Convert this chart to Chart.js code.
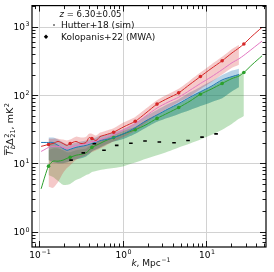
<!DOCTYPE html>
<html><head><meta charset="utf-8">
<script src="https://cdn.jsdelivr.net/npm/chart.js@4.4.1/dist/chart.umd.min.js"></script>
<style>html,body{margin:0;padding:0;background:#fff;}canvas{display:block;}</style>
</head><body>
<canvas id="c" width="274" height="272"></canvas>
<script>
// ---- data ----
const kGrid = [0.106,0.118,0.130,0.147,0.169,0.194,0.216,0.236,0.277,0.318,0.366,0.397,0.430,0.482,0.538,0.634,0.782,1.04,1.42,1.91,2.59,3.51,4.71,6.43,8.57,11.5,15.6,20.5,24.8,28.4,35.6,46.9];
const markerK = [0.130,0.236,0.430,0.782,1.42,2.59,4.71,8.57,15.6,28.4];

const redLine   = [17.8,18.4,19.0,19.6,21.0,19.6,18.4,19.6,21.0,19.6,20.3,23.9,23.2,21.7,24.7,26.4,28.7,34.5,41.4,54.9,73.9,90.2,108,144,187,244,318,415,490,560,730,983];
const pinkLine  = [15.0,16.1,17.2,17.8,17.8,17.2,16.6,17.2,18.4,19.0,19.6,20.3,21.0,21.0,22.4,23.9,26.4,31.2,38.1,49.7,64.7,79.0,93.3,118,148,184,236,298,340,382,474,618];
const blueLine  = [20.3,20.3,20.3,20.3,18.4,16.6,15.6,16.1,17.2,17.8,18.4,19.0,19.6,20.6,21.7,22.4,23.9,27.3,33.4,42.1,51.3,62.7,75.2,93.3,112,134,167,187,200,null,null,null];
const greenLine = [4.26,6.56,9.14,10.8,10.8,11.2,11.9,12.3,13.2,13.6,14.3,15.6,17.2,18.4,19.6,21.7,23.9,27.3,31.2,36.8,45.7,54.9,65.8,81.7,103,122,148,175,190,214,279,376];

const redBandLo   = [null,null,4.56,4.41,5.38,7.25,8.56,9.45,11.2,12.3,13.2,14.1,14.6,15.6,16.6,18.4,21.0,24.7,30.2,39.4,51.3,64.7,79.0,96.4,122,154,200,252,279,null,null,null];
const redBandHi   = [null,null,23.1,23.1,23.1,22.4,21.7,22.4,24.7,23.9,24.7,27.3,27.3,25.6,28.3,30.2,32.8,40.0,48.0,63.7,84.5,103,124,164,214,279,364,474,541,null,null,null];
const blueBandLo  = [null,null,11.2,10.4,10.1,10.1,10.4,10.8,11.5,11.9,12.7,13.6,15.0,16.1,17.2,19.0,21.0,23.1,27.3,33.4,40.7,46.5,53.1,60.6,69.2,79.0,90.2,114,130,null,null,null];
const blueBandHi  = [null,null,23.9,23.9,22.4,20.3,19.0,19.0,20.3,21.0,21.7,22.4,23.1,23.9,25.6,26.4,28.3,32.3,39.4,49.7,60.6,73.9,87.3,110,132,159,197,229,244,null,null,null];
const greenBandLo = [null,null,6.78,6.35,5.56,4.87,4.87,5.03,5.75,6.14,6.78,7.01,7.49,7.75,8.01,8.28,8.56,9.14,10.3,11.7,13.2,15.0,17.2,19.6,22.4,26.0,31.2,38.1,45.0,49.7,null,null];
const greenBandHi = [null,null,15.6,16.6,16.6,15.6,14.6,14.6,15.6,16.1,16.6,17.8,19.0,20.3,21.7,23.9,26.4,30.2,34.5,42.1,51.3,62.7,73.9,90.2,110,130,159,187,203,221,null,null];

const kolK = [0.242,0.339,0.460,0.600,0.852,1.26,1.86,2.76,4.14,6.09,8.96,13.2];
const kolP = [11.2,14.3,19.4,15.6,18.4,19.8,21.3,20.6,20.1,21.7,24.3,27.1];

const xMajor = [0.1, 1, 10];
const xMajorExp = ['\u22121', '0', '1'];
const yMajor = [1, 10, 100, 1000];
const yMajorExp = ['0', '1', '2', '3'];

const titleText = ' = 6.30\u00b10.05';
const legendSim = 'Hutter+18 (sim)';
const legendObs = 'Kolopanis+22 (MWA)';

const X_MIN = 0.0824, X_MAX = 52.3, Y_MIN = 0.622, Y_MAX = 2041;

// ---- helpers ----
const FONT = '"DejaVu Sans", sans-serif';
function pts(arr){ return kGrid.map((k,i)=> arr[i]==null ? null : {x:k, y:arr[i]}).filter(Boolean); }
function rich(ctx, items, x, y, align, size){
  const ss = size*0.7;
  let w = 0;
  const parts = items.map(it=>{
    ctx.font = (it.it?'italic ':'') + size + 'px ' + FONT;
    const bw = ctx.measureText(it.t).width;
    ctx.font = ss + 'px ' + FONT;
    let sw = 0;
    if (it.sup) sw = Math.max(sw, ctx.measureText(it.sup).width);
    if (it.sub) { ctx.font = (it.subIt?'italic ':'') + ss + 'px ' + FONT; sw = Math.max(sw, ctx.measureText(it.sub).width); }
    const gap = sw ? 0.6 : 0;
    w += bw + sw + gap;
    return Object.assign({}, it, {bw, sw, gap});
  });
  let cx = align==='center' ? x - w/2 : (align==='right' ? x - w : x);
  parts.forEach(p=>{
    ctx.font = (p.it?'italic ':'') + size + 'px ' + FONT;
    ctx.fillText(p.t, cx, y);
    if (p.over) ctx.fillRect(cx + 0.5, y - size*0.86, p.bw, 0.8);
    cx += p.bw;
    if (p.sup){ ctx.font = ss + 'px ' + FONT; ctx.fillText(p.sup, cx + p.gap, y - size*0.42); }
    if (p.sub){ ctx.font = (p.subIt?'italic ':'') + ss + 'px ' + FONT; ctx.fillText(p.sub, cx + p.gap, y + size*0.24); }
    cx += p.sw + p.gap;
  });
  return w;
}

const axesPlugin = {
  id: 'axesPlugin',
  beforeDatasetsDraw(chart){
    const {ctx, chartArea:a, scales:{x, y}} = chart;
    ctx.save();
    ctx.strokeStyle = '#d2d2d2'; ctx.lineWidth = 1;
    xMajor.forEach(v=>{ const p = Math.round(x.getPixelForValue(v)) + 0.5; ctx.beginPath(); ctx.moveTo(p, a.top); ctx.lineTo(p, a.bottom); ctx.stroke(); });
    yMajor.forEach(v=>{ const p = Math.round(y.getPixelForValue(v)) + 0.5; ctx.beginPath(); ctx.moveTo(a.left, p); ctx.lineTo(a.right, p); ctx.stroke(); });
    ctx.restore();
  },
  afterDraw(chart){
    const {ctx, chartArea:a, scales:{x, y}} = chart;
    ctx.save();
    ctx.strokeStyle = '#000'; ctx.fillStyle = '#000';
    // frame
    ctx.lineWidth = 1.2;
    ctx.strokeRect(a.left, a.top, a.right - a.left, a.bottom - a.top);
    // ticks (inward, all four sides)
    ctx.lineWidth = 0.9;
    for (let n = -2; n <= 4; n++){
      for (let m = 1; m <= 9; m++){
        const v = m * Math.pow(10, n);
        const len = m === 1 ? 6 : 3.5;
        if (v >= X_MIN && v <= X_MAX){
          const p = Math.round(x.getPixelForValue(v)) + 0.5;
          ctx.beginPath(); ctx.moveTo(p, a.bottom); ctx.lineTo(p, a.bottom - len); ctx.stroke();
          ctx.beginPath(); ctx.moveTo(p, a.top); ctx.lineTo(p, a.top + len); ctx.stroke();
        }
        if (v >= Y_MIN && v <= Y_MAX){
          const p = Math.round(y.getPixelForValue(v)) + 0.5;
          ctx.beginPath(); ctx.moveTo(a.left, p); ctx.lineTo(a.left + len, p); ctx.stroke();
          ctx.beginPath(); ctx.moveTo(a.right, p); ctx.lineTo(a.right - len, p); ctx.stroke();
        }
      }
    }
    // tick labels
    ctx.textBaseline = 'alphabetic';
    xMajor.forEach((v,i)=>{ rich(ctx, [{t:'10', sup:xMajorExp[i]}], x.getPixelForValue(v) + 1, a.bottom + 10.5, 'center', 9); });
    yMajor.forEach((v,i)=>{ rich(ctx, [{t:'10', sup:yMajorExp[i]}], a.left - 2.5, y.getPixelForValue(v) + 3.5, 'right', 9); });
    // axis labels
    ctx.fillStyle = '#111';
    rich(ctx, [{t:'k', it:true}, {t:', Mpc', sup:'\u22121'}], (a.left + a.right)/2 + 2, 266, 'center', 9);
    ctx.save();
    ctx.translate(12.5, (a.top + a.bottom)/2 + 3);
    ctx.rotate(-Math.PI/2);
    rich(ctx, [{t:'T', it:true, over:true, sup:'2', sub:'b', subIt:true}, {t:'\u0394', sup:'2', sub:'21'}, {t:', mK', sup:'2'}], 0, 0, 'center', 9.5);
    ctx.restore();
    // legend / annotation
    ctx.fillStyle = '#111';
    rich(ctx, [{t:'z', it:true}, {t:titleText}], 90.5, 16.5, 'center', 8.5);
    ctx.font = '9px ' + FONT;
    ctx.fillText(legendSim, 61, 28);
    ctx.fillText(legendObs, 61, 39.5);
    ctx.fillStyle = '#000';
    ctx.beginPath(); ctx.arc(54, 25, 0.8, 0, 2*Math.PI); ctx.fill();
    ctx.beginPath(); ctx.moveTo(46, 34.5); ctx.lineTo(48.2, 36.7); ctx.lineTo(46, 38.9); ctx.lineTo(43.8, 36.7); ctx.closePath(); ctx.fill();
    ctx.restore();
  }
};

const RED = '#d62728', PINK = '#e377c2', BLUE = '#1f77b4', GREEN = '#2ca02c';
function band(arr, order, fill, color){
  return {data: pts(arr), order, fill, backgroundColor: color, borderColor: 'transparent', borderWidth: 0, pointRadius: 0, tension: 0.25};
}
function lineDs(arr, color, order, markers){
  return {data: pts(arr), order, borderColor: color, backgroundColor: color, borderWidth: 1, fill: false, tension: 0.25,
    pointRadius: c => (markers && markerK.includes(c.raw && c.raw.x)) ? 1.8 : 0, pointBorderWidth: 0};
}

new Chart(document.getElementById('c'), {
  type: 'line',
  data: {
    datasets: [
      band(greenBandLo, 10, false, 'transparent'),
      band(greenBandHi, 10, '-1', 'rgba(44,160,44,0.3)'),
      band(blueBandLo, 9.5, false, 'transparent'),
      band(blueLine, 9.5, '-1', 'rgba(44,160,44,0.3)'),
      band(blueBandLo, 9, false, 'transparent'),
      band(blueBandHi, 9, '-1', 'rgba(31,119,180,0.32)'),
      band(redBandLo, 8, false, 'transparent'),
      band(redBandHi, 8, '-1', 'rgba(214,39,40,0.25)'),
      lineDs(greenLine, GREEN, 4, true),
      lineDs(blueLine, BLUE, 3, false),
      lineDs(pinkLine, PINK, 2, false),
      lineDs(redLine, RED, 1, true),
      {data: kolK.map((k,i)=>({x:k, y:kolP[i]})), order: 0, showLine: false, pointStyle: 'line', pointRadius: 1.8,
       borderColor: '#000', pointBorderWidth: 1.6, borderWidth: 1.6, backgroundColor: '#000'}
    ]
  },
  options: {
    responsive: false, animation: false, devicePixelRatio: 1,
    layout: {padding: {left: 32, right: 8, top: 3, bottom: 25}},
    plugins: {legend: {display: false}, tooltip: {enabled: false}, filler: {propagate: false}},
    scales: {
      x: {type: 'logarithmic', min: X_MIN, max: X_MAX, display: false},
      y: {type: 'logarithmic', min: Y_MIN, max: Y_MAX, display: false}
    }
  },
  plugins: [axesPlugin]
});
</script>
</body></html>
